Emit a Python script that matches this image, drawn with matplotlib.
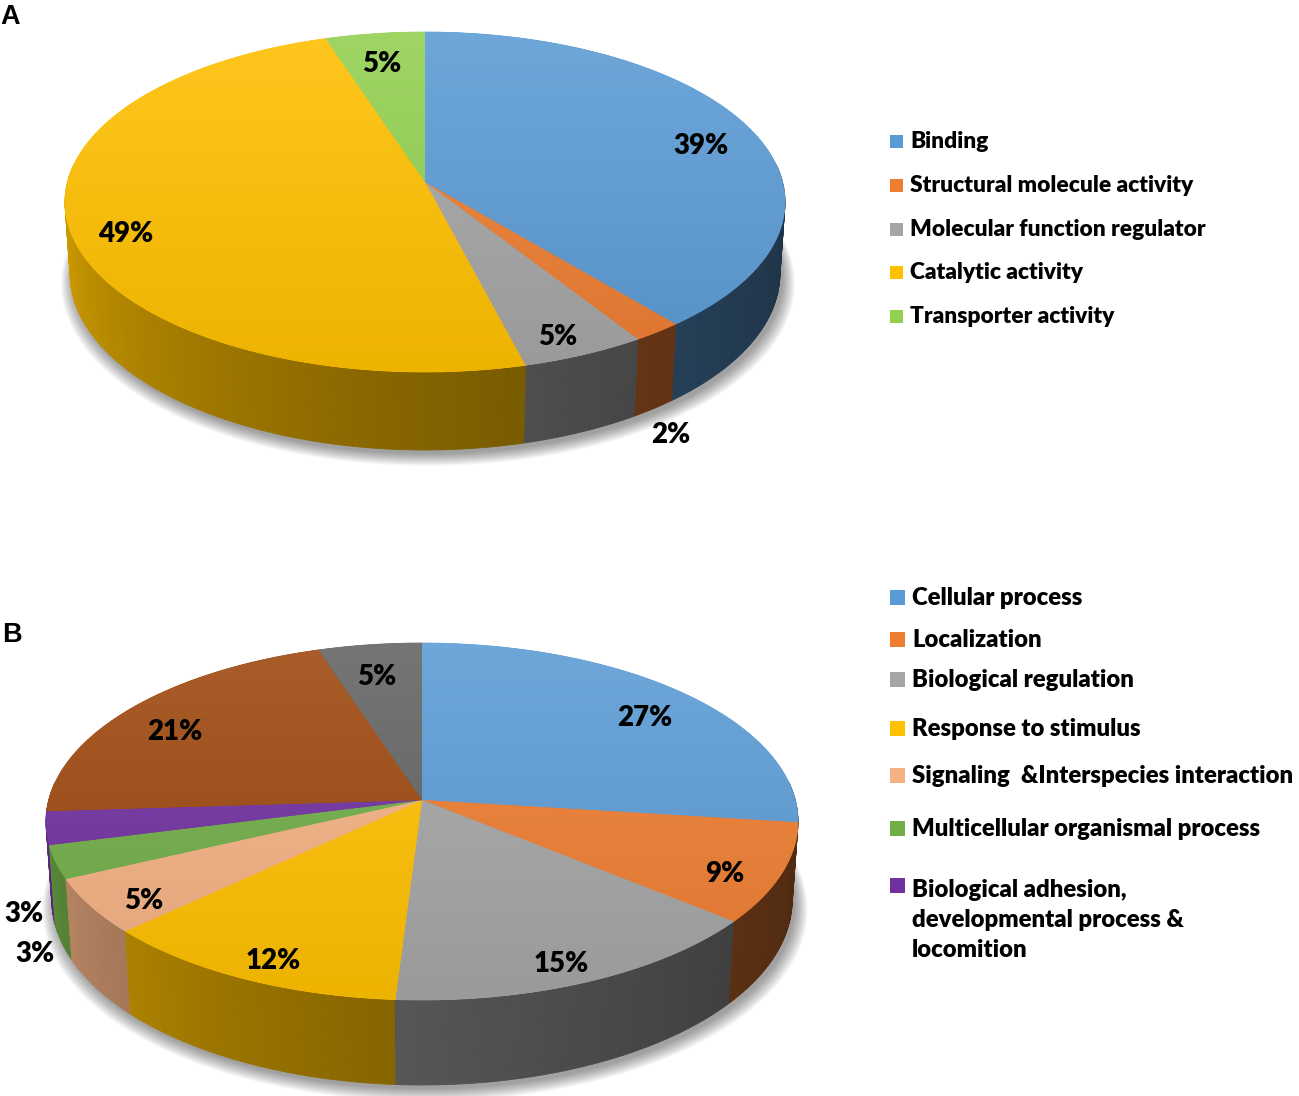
import numpy as np
import matplotlib
matplotlib.use("Agg")
import matplotlib.pyplot as plt
from matplotlib.patches import Polygon, Rectangle
from matplotlib.colors import to_rgb

# ---------------- data ----------------
a_labels = ["Binding", "Structural molecule activity", "Molecular function regulator",
            "Catalytic activity", "Transporter activity"]
a_values = [39, 2, 5, 49, 5]
a_colors = ["#5B9BD5", "#ED7D31", "#A5A5A5", "#FFC000", "#92D050"]

b_values = [27, 9, 15, 12, 5, 3, 3, 21, 5]
b_colors = ["#5B9BD5", "#ED7D31", "#A5A5A5", "#FFC000", "#F4B183",
            "#70AD47", "#7030A0", "#9E480E", "#636363"]
b_labels = ["Cellular process", "Localization", "Biological regulation",
            "Response to stimulus", "Signaling  &Interspecies interaction",
            "Multicellular organismal process",
            "Biological adhesion,\ndevelopmental process &\nlocomition"]

# ---------------- layout ----------------
W, H = 1299, 1096
fig = plt.figure(figsize=(W / 100, H / 100), dpi=100)
ax = fig.add_axes([0, 0, 1, 1])
ax.set_xlim(0, W)
ax.set_ylim(H, 0)
ax.axis("off")
renderer = fig.canvas.get_renderer()
FONT = ["Lato", "DejaVu Sans"]
WEIGHT = "heavy"


def fit_fs(text, target_px, family, fs0=20):
    t = ax.text(0, 0, text, fontsize=fs0, family=family, fontweight=WEIGHT)
    w = t.get_window_extent(renderer).width
    t.remove()
    return fs0 * target_px / w


class Proj:
    """Perspective projection of a unit-radius cylinder (pie) to pixel coords."""

    def __init__(self, cx, cy, top, bot, half, thick):
        q = bot / top
        s = top / half * np.sqrt(q)
        c = np.sqrt(1 - s * s)
        L = c * (q + 1) / (q - 1)
        k = half * np.sqrt(L * L - c * c)
        T = s / (L - c) + thick / k
        self.h = (T * (L - c) - s) / (c - T * s)
        self.cx, self.cy, self.s, self.c, self.L, self.k = cx, cy, s, c, L, k
        self.half, self.top, self.bot = half, top, bot

    def __call__(self, r, th, z=0.0):
        t = np.radians(th)
        x3, y3 = r * np.cos(t), r * np.sin(t)
        w = self.L + y3 * self.c - z * self.s
        sx = x3 / w
        sy = (y3 * self.s + z * self.c) / w
        return (self.cx + self.k * sx, self.cy - self.k * sy)


def shade(col, f):
    r, g, b = to_rgb(col)
    return (r * f, g * f, b * f)


def lighten(col, a):
    r, g, b = to_rgb(col)
    return (r + (1 - r) * a, g + (1 - g) * a, b + (1 - b) * a)


def wall_factor(t):
    u = np.clip(-t / 180.0, 0, 1)
    return 0.33 + 0.52 * u ** 1.5


def draw_pie(P, values, colors, fs):
    total = float(sum(values))
    bounds = 90 - 360 * np.concatenate([[0], np.cumsum(values)]) / total

    # soft drop shadow
    tt = np.linspace(0, 360, 361)
    for i in range(12):
        rr = 1.0 + 0.003 * i
        pts = np.array([P(rr, t, -P.h) for t in tt])
        pts[:, 0] += 3
        pts[:, 1] += 4 + 0.4 * i
        ax.add_patch(Polygon(pts, closed=True, fc="black", ec="none",
                             alpha=0.035, zorder=1))

    # outer walls
    quads = []
    for i in range(len(values)):
        t1, t2 = bounds[i], bounds[i + 1]
        hi, lo = min(t1, 6), max(t2, -186)
        if hi <= lo:
            continue
        n = max(1, int(np.ceil(hi - lo)))
        ts = np.linspace(hi, lo, n + 1)
        for a, b in zip(ts[:-1], ts[1:]):
            m = 0.5 * (a + b)
            col = shade(colors[i], wall_factor(m))
            pts = [P(1, a, 0), P(1, b, 0), P(1, b, -P.h), P(1, a, -P.h)]
            quads.append((np.sin(np.radians(m)), pts, col))
    quads.sort(key=lambda q: -q[0])
    for _, pts, col in quads:
        ax.add_patch(Polygon(pts, closed=True, fc=col, ec=col, lw=0.6, zorder=2))

    # top faces with vertical gradient
    x0, x1 = P.cx - P.half - 10, P.cx + P.half + 10
    y0, y1 = P.cy - P.top - 10, P.cy + P.bot + 10
    grad = np.linspace(0, 1, 128)[:, None]
    for i in range(len(values)):
        t1, t2 = bounds[i], bounds[i + 1]
        ts = np.linspace(t1, t2, int(abs(t1 - t2)) + 3)
        pts = [P(0, 0, 0)] + [P(1, t, 0) for t in ts]
        poly = Polygon(pts, closed=True, fc=colors[i], ec=colors[i], lw=0.5, zorder=3)
        ax.add_patch(poly)
        ct = np.array(lighten(colors[i], 0.12))
        cb = np.array(shade(colors[i], 0.93))
        arr = (ct[None, :] * (1 - grad) + cb[None, :] * grad)[:, None, :]
        im = ax.imshow(arr, extent=(x0, x1, y1, y0), aspect="auto",
                       interpolation="bilinear", zorder=3.1)
        im.set_clip_path(poly)

    # percentage labels
    fs_px = fs * 100 / 72.0
    digit_h = 0.72 * fs_px
    for i, v in enumerate(values):
        mid = 0.5 * (bounds[i] + bounds[i + 1])
        txt = f"{v}%"
        if v <= 3:
            x, y = P(1.0, mid, -P.h)
            cm, sm = np.cos(np.radians(mid)), np.sin(np.radians(mid))
            x += (0.75 * fs_px + 8) * cm
            y -= (0.5 * digit_h + 20) * sm
        else:
            x, y = P(0.85, mid, -0.12 * P.h)
        ax.text(x, y + digit_h / 2, txt, ha="center", va="baseline", fontsize=fs,
                family=FONT, fontweight=WEIGHT, color="black", zorder=5)


def draw_legend(labels, colors, baselines, fs, sq, x_sq, x_txt, line_px):
    t1 = ax.text(0, 0, "Ag", fontsize=fs, family=FONT, fontweight=WEIGHT,
                 linespacing=1.0)
    t2 = ax.text(0, 0, "Ag\nAg", fontsize=fs, family=FONT, fontweight=WEIGHT,
                 linespacing=1.0)
    d = t2.get_window_extent(renderer).height - t1.get_window_extent(renderer).height
    t1.remove()
    t2.remove()
    ls = line_px / d
    for lab, col, yb in zip(labels, colors, baselines):
        ax.add_patch(Rectangle((x_sq, yb - sq), sq, sq, fc=col, ec="none", zorder=5))
        nl = lab.count("\n")
        ax.text(x_txt, yb + nl * line_px, lab, ha="left", va="baseline", fontsize=fs,
                family=FONT, fontweight=WEIGHT, color="black", linespacing=ls, zorder=5)


# label font sizes fitted to the reference text widths
fs_pct = fit_fs("15%", 55, FONT)
fs_leg_a = fit_fs("Structural molecule activity", 283, FONT)
fs_leg_b = fit_fs("Signaling  &Interspecies interaction", 381, FONT)

PA = Proj(425, 182, 150, 190, 360, 78)
PB = Proj(422, 800, 157, 200, 376, 85)

draw_pie(PA, a_values, a_colors, fs_pct)
draw_pie(PB, b_values, b_colors, fs_pct)

draw_legend(a_labels, a_colors, [148 + 43.75 * i for i in range(5)],
            fs_leg_a, 13, 890, 910, 32)
draw_legend(b_labels, b_colors[:7], [605, 647, 687, 736, 783, 836, 893],
            fs_leg_b, 15, 890, 912, 32)

ax.text(0, 24, "A", ha="left", va="baseline", fontsize=19.5, fontweight="bold",
        family=["Liberation Sans", "DejaVu Sans"], color="black")
ax.text(2, 642, "B", ha="left", va="baseline", fontsize=19.5, fontweight="bold",
        family=["Liberation Sans", "DejaVu Sans"], color="black")

fig.savefig("out.png", dpi=100)
